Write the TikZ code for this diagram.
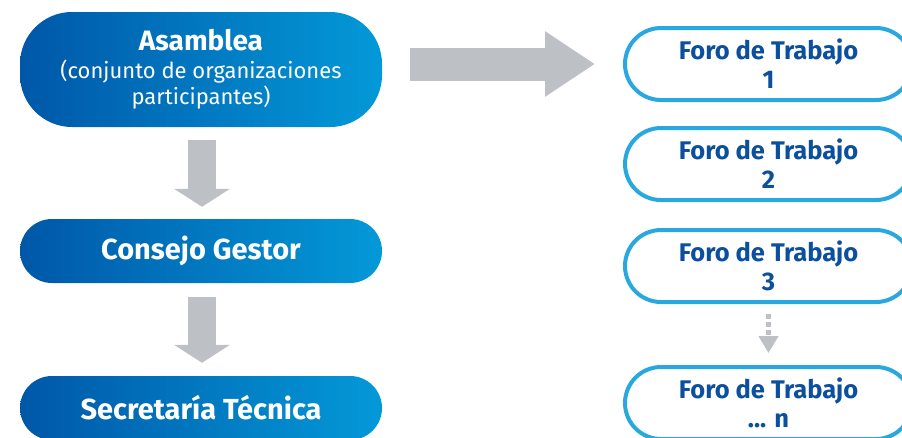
\documentclass[tikz,border=0pt]{standalone}
\usepackage{fontspec}
\setmainfont{Fira Sans}
\usetikzlibrary{arrows.meta}
\definecolor{dblue}{HTML}{0057A8}
\definecolor{lblue}{HTML}{0399D8}
\definecolor{fborder}{HTML}{29A8E0}
\definecolor{ftext}{HTML}{0B4F9E}
\definecolor{agray}{HTML}{BDC1C5}
\tikzset{
  mainbox/.style={minimum width=362pt, inner sep=0pt, left color=dblue, right color=lblue, text=white, align=center, font=\fontsize{22}{26}\selectfont},
  forobox/.style={draw=fborder, line width=4pt, fill=white, minimum width=287pt, minimum height=72pt, rounded corners=36pt, inner sep=0pt, text=ftext, align=center, font=\fontsize{25.5}{29}\selectfont\bfseries},
  vblock/.style={agray, line width=28pt, -{Triangle[width=55pt,length=18pt]}},
  hblock/.style={agray, line width=33pt, -{Triangle[width=62pt,length=50pt]}},
  dashconn/.style={agray, line width=5pt, dash pattern=on 5pt off 3pt, -{Triangle[width=19pt,length=17pt]}},
}
\begin{document}
\begin{tikzpicture}[x=1pt,y=-1pt]
\clip (0,0) rectangle (902,437);
\fill[white] (0,0) rectangle (902,437);
\node[mainbox, minimum height=115pt, rounded corners=52pt] (asam) at (201,69.5) {{\fontsize{28}{34}\selectfont\bfseries Asamblea}\\[2pt](conjunto de organizaciones\\participantes)};
\node[mainbox, minimum height=64pt, rounded corners=32pt, font=\fontsize{29}{32}\selectfont\bfseries] (cons) at (201,251) {Consejo Gestor};
\node[mainbox, minimum height=64pt, rounded corners=32pt, font=\fontsize{29}{32}\selectfont\bfseries] (secr) at (201,408) {Secretaría Técnica};
\node[forobox] (f1) at (768.5,64) {Foro de Trabajo\\1};
\node[forobox] (f2) at (768.5,164) {Foro de Trabajo\\2};
\node[forobox] (f3) at (768.5,266) {Foro de Trabajo\\3};
\node[forobox] (fn) at (768.5,403) {Foro de Trabajo\\... n};
\draw[vblock, shorten <=13pt, shorten >=12pt] ([xshift=1pt]asam.south) -- ([xshift=1pt]cons.north);
\draw[vblock, shorten <=14pt, shorten >=13pt] ([xshift=1pt]cons.south) -- ([xshift=1pt]secr.north);
\draw[hblock, shorten <=28pt, shorten >=28pt] (asam.east |- f1.west) -- (f1.west);
\draw[dashconn, shorten <=10pt, shorten >=12pt] (f3.south) -- (fn.north);
\end{tikzpicture}
\end{document}
